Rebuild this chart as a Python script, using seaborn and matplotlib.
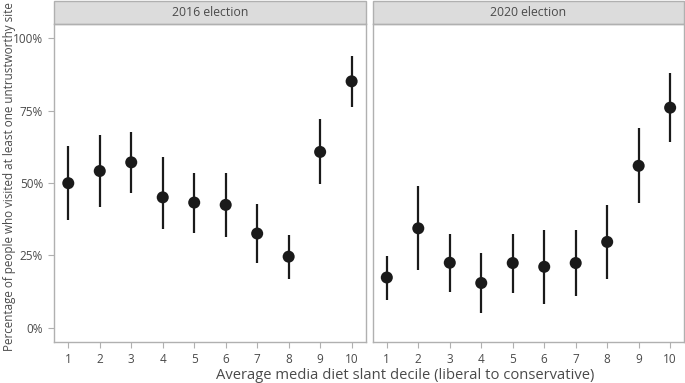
import matplotlib.pyplot as plt
import matplotlib.patches as mpatches
import matplotlib.ticker as mticker
import seaborn as sns
import pandas as pd

# Data
deciles = [1, 2, 3, 4, 5, 6, 7, 8, 9, 10]
pct_2016 = [49.9, 54.1, 57.1, 45.0, 43.2, 42.4, 32.5, 24.5, 60.7, 85.1]
low_2016 = [37.1, 41.5, 46.6, 34.2, 32.8, 31.3, 22.3, 16.8, 49.5, 76.3]
high_2016 = [62.6, 66.7, 67.5, 59.1, 53.5, 53.5, 42.6, 32.0, 72.0, 93.7]
pct_2020 = [17.3, 34.3, 22.4, 15.4, 22.3, 21.0, 22.3, 29.6, 55.9, 76.0]
low_2020 = [9.5, 19.8, 12.3, 4.9, 12.1, 8.2, 11.0, 16.8, 42.9, 64.0]
high_2020 = [24.9, 48.8, 32.3, 25.8, 32.3, 33.8, 33.8, 42.3, 69.0, 87.9]
panels = ["2016 election", "2020 election"]

df = pd.concat([
    pd.DataFrame({"decile": deciles, "pct": pct_2016, "low": low_2016,
                  "high": high_2016, "election": panels[0]}),
    pd.DataFrame({"decile": deciles, "pct": pct_2020, "low": low_2020,
                  "high": high_2020, "election": panels[1]}),
])

sns.set_theme(style="white")
plt.rcParams['font.family'] = ['Open Sans', 'DejaVu Sans']
txt = "#4a4a4a"
edge = "#b0b0b0"

g = sns.FacetGrid(df, col="election", col_order=panels, sharey=True,
                  height=3.83, aspect=0.9)
g.figure.set_size_inches(6.85, 3.83)


def draw(data, **kws):
    ax = plt.gca()
    ax.vlines(data["decile"], data["low"], data["high"], color="#1a1a1a", lw=1.6, zorder=2)
    sns.scatterplot(data=data, x="decile", y="pct", ax=ax, color="#1a1a1a",
                    s=75, edgecolor="none", zorder=3)


g.map_dataframe(draw)
g.set(xlim=(0.55, 10.45), ylim=(-5, 105))

for ax, name in zip(g.axes.flat, panels):
    ax.set_title("")
    ax.set_xticks(deciles)
    ax.set_yticks([0, 25, 50, 75, 100])
    ax.yaxis.set_major_formatter(mticker.FuncFormatter(lambda v, p: f"{int(v)}%"))
    ax.tick_params(axis="both", length=4, width=0.8, color=edge, labelsize=8.5,
                   labelcolor=txt, pad=4, bottom=True, left=True)
    for sp in ax.spines.values():
        sp.set_visible(True)
        sp.set_color(edge)
        sp.set_linewidth(1.0)
    ax.set_xlabel("")
    ax.set_ylabel("")
    rect = mpatches.Rectangle((0, 1.0), 1, 0.073, transform=ax.transAxes,
                              facecolor="#dcdcdc", edgecolor=edge, lw=1.0,
                              clip_on=False)
    ax.add_patch(rect)
    ax.text(0.5, 1.0365, name, transform=ax.transAxes, ha="center", va="center",
            fontsize=8.8, color=txt)

g.axes.flat[1].tick_params(axis="y", left=False, labelleft=False)

g.figure.subplots_adjust(left=0.079, right=0.999, bottom=0.107, top=0.938, wspace=0.022)
g.figure.text(0.004, 0.54, "Percentage of people who visited at least one untrustworthy site",
              rotation=90, ha="left", va="center", fontsize=8.4, color=txt)
g.figure.text(0.592, 0.02, "Average media diet slant decile (liberal to conservative)",
              ha="center", va="center", fontsize=10.6, color=txt)

g.figure.savefig("out.png", dpi=100)
